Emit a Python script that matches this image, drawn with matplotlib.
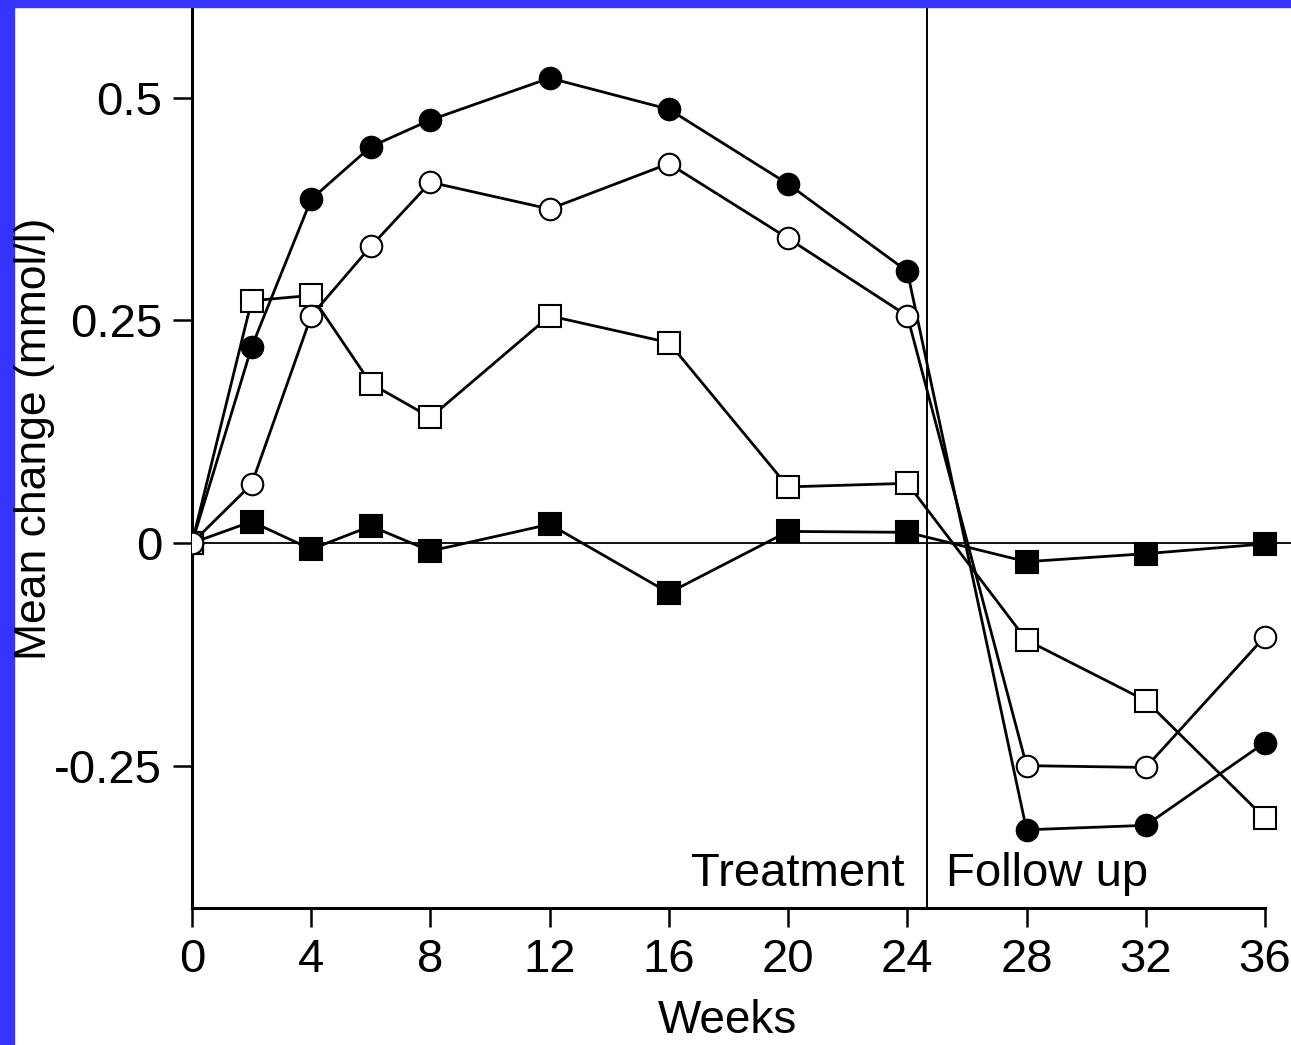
import matplotlib
matplotlib.use("Agg")
import matplotlib.pyplot as plt
from matplotlib import font_manager
from matplotlib.patches import Rectangle

# ---- data ----
weeks = [0, 2, 4, 6, 8, 12, 16, 20, 24, 28, 32, 36]
filled_circle = [0.0, 0.220, 0.386, 0.445, 0.475, 0.522, 0.487, 0.403, 0.305, -0.322, -0.317, -0.224]
open_circle = [0.0, 0.066, 0.255, 0.333, 0.405, 0.375, 0.426, 0.342, 0.255, -0.250, -0.252, -0.105]
open_square = [0.0, 0.272, 0.278, 0.179, 0.141, 0.255, 0.225, 0.063, 0.067, -0.109, -0.177, -0.309]
filled_square = [0.0, 0.024, -0.007, 0.019, -0.009, 0.021, -0.056, 0.013, 0.012, -0.021, -0.012, -0.001]
xticks = [0, 4, 8, 12, 16, 20, 24, 28, 32, 36]
yticks = [0.5, 0.25, 0.0, -0.25]
ytick_labels = ["0.5", "0.25", "0", "-0.25"]
treatment_end = 24.65

names = {f.name for f in font_manager.fontManager.ttflist}
fam = "Liberation Sans Narrow" if "Liberation Sans Narrow" in names else "Liberation Sans"
plt.rcParams['font.family'] = [fam, 'DejaVu Sans']

W, H = 1291, 1045
fig = plt.figure(figsize=(W / 100, H / 100), dpi=100)
fig.patch.set_facecolor('white')
# blue frame
fig.patches.append(Rectangle((0, 0), 14 / W, 1, transform=fig.transFigure, color='#3434fe', zorder=0))
fig.patches.append(Rectangle((0, 1 - 7 / H), 1, 7 / H, transform=fig.transFigure, color='#3434fe', zorder=0))

left = 192 / W
bottom = 1 - 908 / H
top = 1 - 7 / H
ax = fig.add_axes([left, bottom, 1 - left, top - bottom])
ax.set_facecolor('none')

px_per_week = (1265 - 192) / 36
ax.set_xlim(0, (W - 192) / px_per_week)
px_per_unit = (767 - 99) / 0.75
ax.set_ylim(-(908 - 543) / px_per_unit, (543 - 7) / px_per_unit)

ax.axhline(0, color='black', lw=1.3, zorder=1)
ax.axvline(treatment_end, color='black', lw=1.4, zorder=1)

lw = 2.0
ms = 15.5
mew = 1.5
ax.plot(weeks, filled_square, color='black', lw=lw, marker='s', ms=ms, mfc='black', mec='black', mew=mew, zorder=3)
ax.plot(weeks, open_square, color='black', lw=lw, marker='s', ms=ms, mfc='white', mec='black', mew=mew, zorder=4)
ax.plot(weeks, filled_circle, color='black', lw=lw, marker='o', ms=ms, mfc='black', mec='black', mew=mew, zorder=5)
ax.plot(weeks, open_circle, color='black', lw=lw, marker='o', ms=ms, mfc='white', mec='black', mew=mew, zorder=6)

for s in ['top', 'right']:
    ax.spines[s].set_visible(False)
for s in ['left', 'bottom']:
    ax.spines[s].set_linewidth(2.2)
ax.spines['bottom'].set_bounds(0, 36)

ax.set_xticks(xticks)
ax.set_xticklabels([str(t) for t in xticks])
ax.set_yticks(yticks)
ax.set_yticklabels(ytick_labels)
ax.tick_params(axis='both', direction='out', length=13.5, width=1.8, labelsize=34, colors='black')
ax.tick_params(axis='x', pad=8)
ax.tick_params(axis='y', pad=8)

ax.text(23.92, -0.385, "Treatment", ha='right', va='baseline', fontsize=34)
ax.text(25.3, -0.385, "Follow up", ha='left', va='baseline', fontsize=34)

fig.text(35 / W, 1 - 439 / H, "Mean change (mmol/l)", rotation=90, ha='center', va='center', fontsize=32)
fig.text(727 / W, 2 / H, "Weeks", ha='center', va='bottom', fontsize=33)

fig.savefig("out.png", dpi=100, facecolor='white')
